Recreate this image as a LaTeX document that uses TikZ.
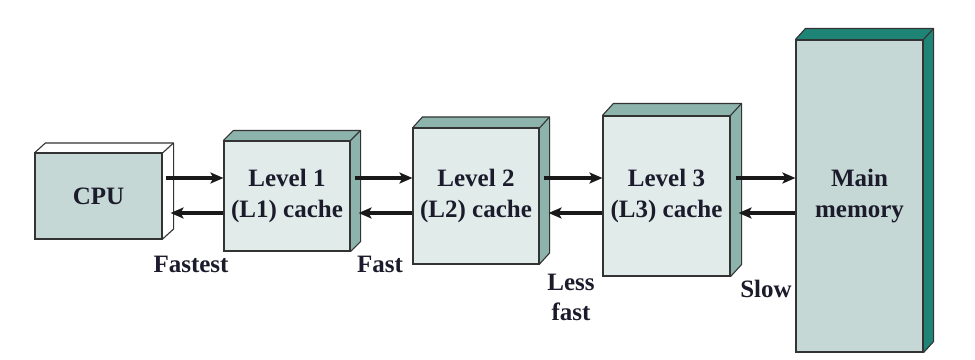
\documentclass[tikz,border=0pt]{standalone}
\usepackage{fontspec}
\setmainfont{Liberation Serif}
\usetikzlibrary{arrows.meta,calc}
\definecolor{cpufront}{HTML}{C5D8D5}
\definecolor{lfront}{HTML}{E1ECEA}
\definecolor{lside}{HTML}{8DB3AD}
\definecolor{mmside}{HTML}{1E8576}
\definecolor{edge}{HTML}{333333}
\definecolor{txt}{HTML}{1B1B2B}
\tikzset{
  boxfront/.style={draw=edge, line width=1.1pt, inner sep=0pt, align=center,
    font=\fontsize{25}{31}\selectfont\bfseries, text=txt},
  boxdepth/.style={draw=edge, line width=1.1pt, line join=round},
  arr/.style={line width=3.6pt, draw=black!90, -{Stealth[length=13pt,width=11pt,inset=3pt]}},
  lbl/.style={font=\fontsize{25}{30}\selectfont\bfseries, text=txt, inner sep=0pt, align=center}
}
\newcommand{\depthbox}[4]{% node, dx, dy, fill
  \fill[#4] (#1.north west) -- ($(#1.north west)+(#2,#3)$) -- ($(#1.north east)+(#2,#3)$) -- ($(#1.south east)+(#2,#3)$) -- (#1.south east) -- (#1.north east) -- cycle;
  \draw[boxdepth] (#1.north west) -- ($(#1.north west)+(#2,#3)$) -- ($(#1.north east)+(#2,#3)$) -- ($(#1.south east)+(#2,#3)$) -- (#1.south east);
  \draw[boxdepth] (#1.north east) -- ($(#1.north east)+(#2,#3)$);
}
\begin{document}
\begin{tikzpicture}[x=1pt,y=-1pt]
\useasboundingbox (0,0) rectangle (975,359);
% front faces
\node[boxfront, fill=cpufront, minimum width=127pt, minimum height=85pt] (cpu) at (98.5,196) {CPU};
\node[boxfront, fill=lfront, minimum width=126pt, minimum height=110pt] (l1) at (287,196) {Level 1\\(L1) cache};
\node[boxfront, fill=lfront, minimum width=126pt, minimum height=135pt] (l2) at (476,196) {Level 2\\(L2) cache};
\node[boxfront, fill=lfront, minimum width=127pt, minimum height=160pt] (l3) at (666.5,196) {Level 3\\(L3) cache};
\node[boxfront, fill=cpufront, minimum width=127pt, minimum height=312pt] (mm) at (859.5,196) {Main\\memory};
% depth faces
\depthbox{cpu}{11}{-10}{white}
\depthbox{l1}{10}{-10}{lside}
\depthbox{l2}{10}{-11}{lside}
\depthbox{l3}{11}{-12}{lside}
\depthbox{mm}{10}{-11}{mmside}
% redraw front outlines on top
\foreach \n in {cpu,l1,l2,l3,mm} {\draw[draw=edge, line width=1.1pt] (\n.north west) rectangle (\n.south east);}
% arrows
\draw[arr] ([shift={(3,-18)}]cpu.east) -- ([shift={(0,-18)}]l1.west);
\draw[arr] ([shift={(0,17)}]l1.west) -- ([shift={(8,17)}]cpu.east);
\draw[arr] ([shift={(4,-18)}]l1.east) -- ([shift={(0,-18)}]l2.west);
\draw[arr] ([shift={(0,17)}]l2.west) -- ([shift={(8,17)}]l1.east);
\draw[arr] ([shift={(4,-18)}]l2.east) -- ([shift={(0,-18)}]l3.west);
\draw[arr] ([shift={(0,17)}]l3.west) -- ([shift={(9,17)}]l2.east);
\draw[arr] ([shift={(5,-18)}]l3.east) -- ([shift={(0,-18)}]mm.west);
\draw[arr] ([shift={(0,17)}]mm.west) -- ([shift={(8,17)}]l3.east);
% speed labels
\node[lbl, anchor=base] (fastest) at (191,272) {Fastest};
\node[lbl, anchor=base] (fast) at (380,272) {Fast};
\node[lbl, anchor=base] (lessfast) at (571,320) {Less\\fast};
\node[lbl, anchor=base] (slow) at (766,297) {Slow};
\end{tikzpicture}
\end{document}
